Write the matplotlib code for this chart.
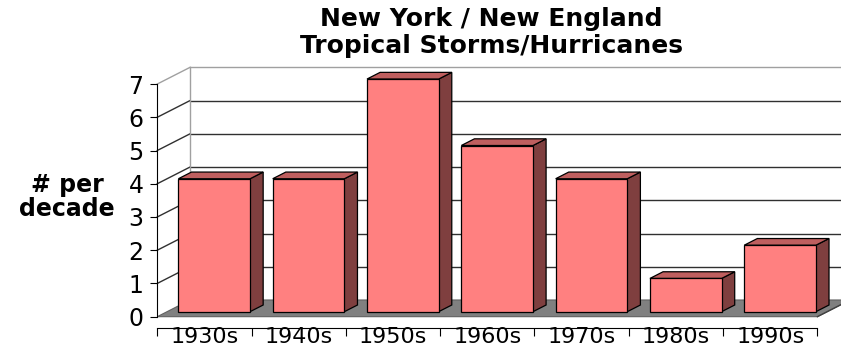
import matplotlib.pyplot as plt
from matplotlib.patches import Polygon
import numpy as np

decades = ["1930s", "1940s", "1950s", "1960s", "1970s", "1980s", "1990s"]
storms = [4, 4, 7, 5, 4, 1, 2]
yticks = [0, 1, 2, 3, 4, 5, 6, 7]

# oblique depth offset of the 3d box (x in categories, y in values)
DX = 0.347
DY = 0.502
ymax = 7
n = len(decades)

fig = plt.figure(figsize=(8.41, 3.52), dpi=100)
ax = fig.add_axes([0.187, 0.0673, 0.813, 0.7506])
ax.set_xlim(0, 7.25)
ax.set_ylim(-0.35, 7.6)

# back wall + side wall gridlines
for k in yticks[1:]:
    c = "#a0a0a0" if k == ymax else "#303030"
    ax.plot([DX, n + DX], [k + DY, k + DY], color=c, lw=1, zorder=1, clip_on=False)
    ax.plot([0, DX], [k, k + DY], color=c, lw=1, zorder=1, clip_on=False)
ax.plot([DX, DX], [DY, ymax + DY], color="#a0a0a0", lw=1, zorder=1)

# floor
floor = Polygon([(0, 0), (n, 0), (n + DX, DY), (DX, DY)], closed=True,
                facecolor="#808080", edgecolor="#606060", lw=0.8, zorder=2)
ax.add_patch(floor)

# bars
x = np.arange(n) + 0.5 + 0.3 * DX
w = 0.76
b0 = 0.3 * DY
ax.bar(x, storms, width=w, bottom=b0, color="#ff8080", edgecolor="black",
       lw=0.9, zorder=4)
for xi, v in zip(x, storms):
    x0 = xi - w / 2
    x1 = xi + w / 2
    side = Polygon([(x1, b0), (x1 + 0.4 * DX, b0 + 0.4 * DY),
                    (x1 + 0.4 * DX, v + b0 + 0.4 * DY), (x1, v + b0)],
                   closed=True, facecolor="#7f3f3f", edgecolor="black", lw=0.9, zorder=3)
    top = Polygon([(x0, v + b0), (x1, v + b0), (x1 + 0.4 * DX, v + b0 + 0.4 * DY),
                   (x0 + 0.4 * DX, v + b0 + 0.4 * DY)],
                  closed=True, facecolor="#bf5f5f", edgecolor="black", lw=0.9, zorder=3)
    ax.add_patch(side)
    ax.add_patch(top)

# axes
for s in ["top", "right"]:
    ax.spines[s].set_visible(False)
ax.spines["left"].set_bounds(0, ymax)
ax.spines["bottom"].set_bounds(0, n)
ax.spines["left"].set_zorder(6)
ax.spines["bottom"].set_zorder(6)
ax.plot([n, n + DX], [0, DY], color="#404040", lw=1, zorder=5)

ax.set_yticks(yticks)
ax.set_yticklabels([str(t) for t in yticks], fontsize=17)
ax.set_xticks(np.arange(n + 1))
ax.set_xticklabels([])
ax.set_xticks(np.arange(n) + 0.5, minor=True)
ax.set_xticklabels(decades, minor=True, fontsize=16)
ax.tick_params(axis="y", length=5, pad=5)
ax.tick_params(axis="x", which="major", length=6)
ax.tick_params(axis="x", which="minor", length=0, pad=-1)

fig.text(0.584, 0.946, "New York / New England", ha="center", va="center",
         fontsize=18, fontweight="bold")
fig.text(0.584, 0.869, "Tropical Storms/Hurricanes", ha="center", va="center",
         fontsize=18, fontweight="bold")
fig.text(0.08, 0.44, "# per\ndecade", ha="center", va="center",
         fontsize=17, fontweight="bold", linespacing=1.0)

plt.savefig("out.png", dpi=100)
